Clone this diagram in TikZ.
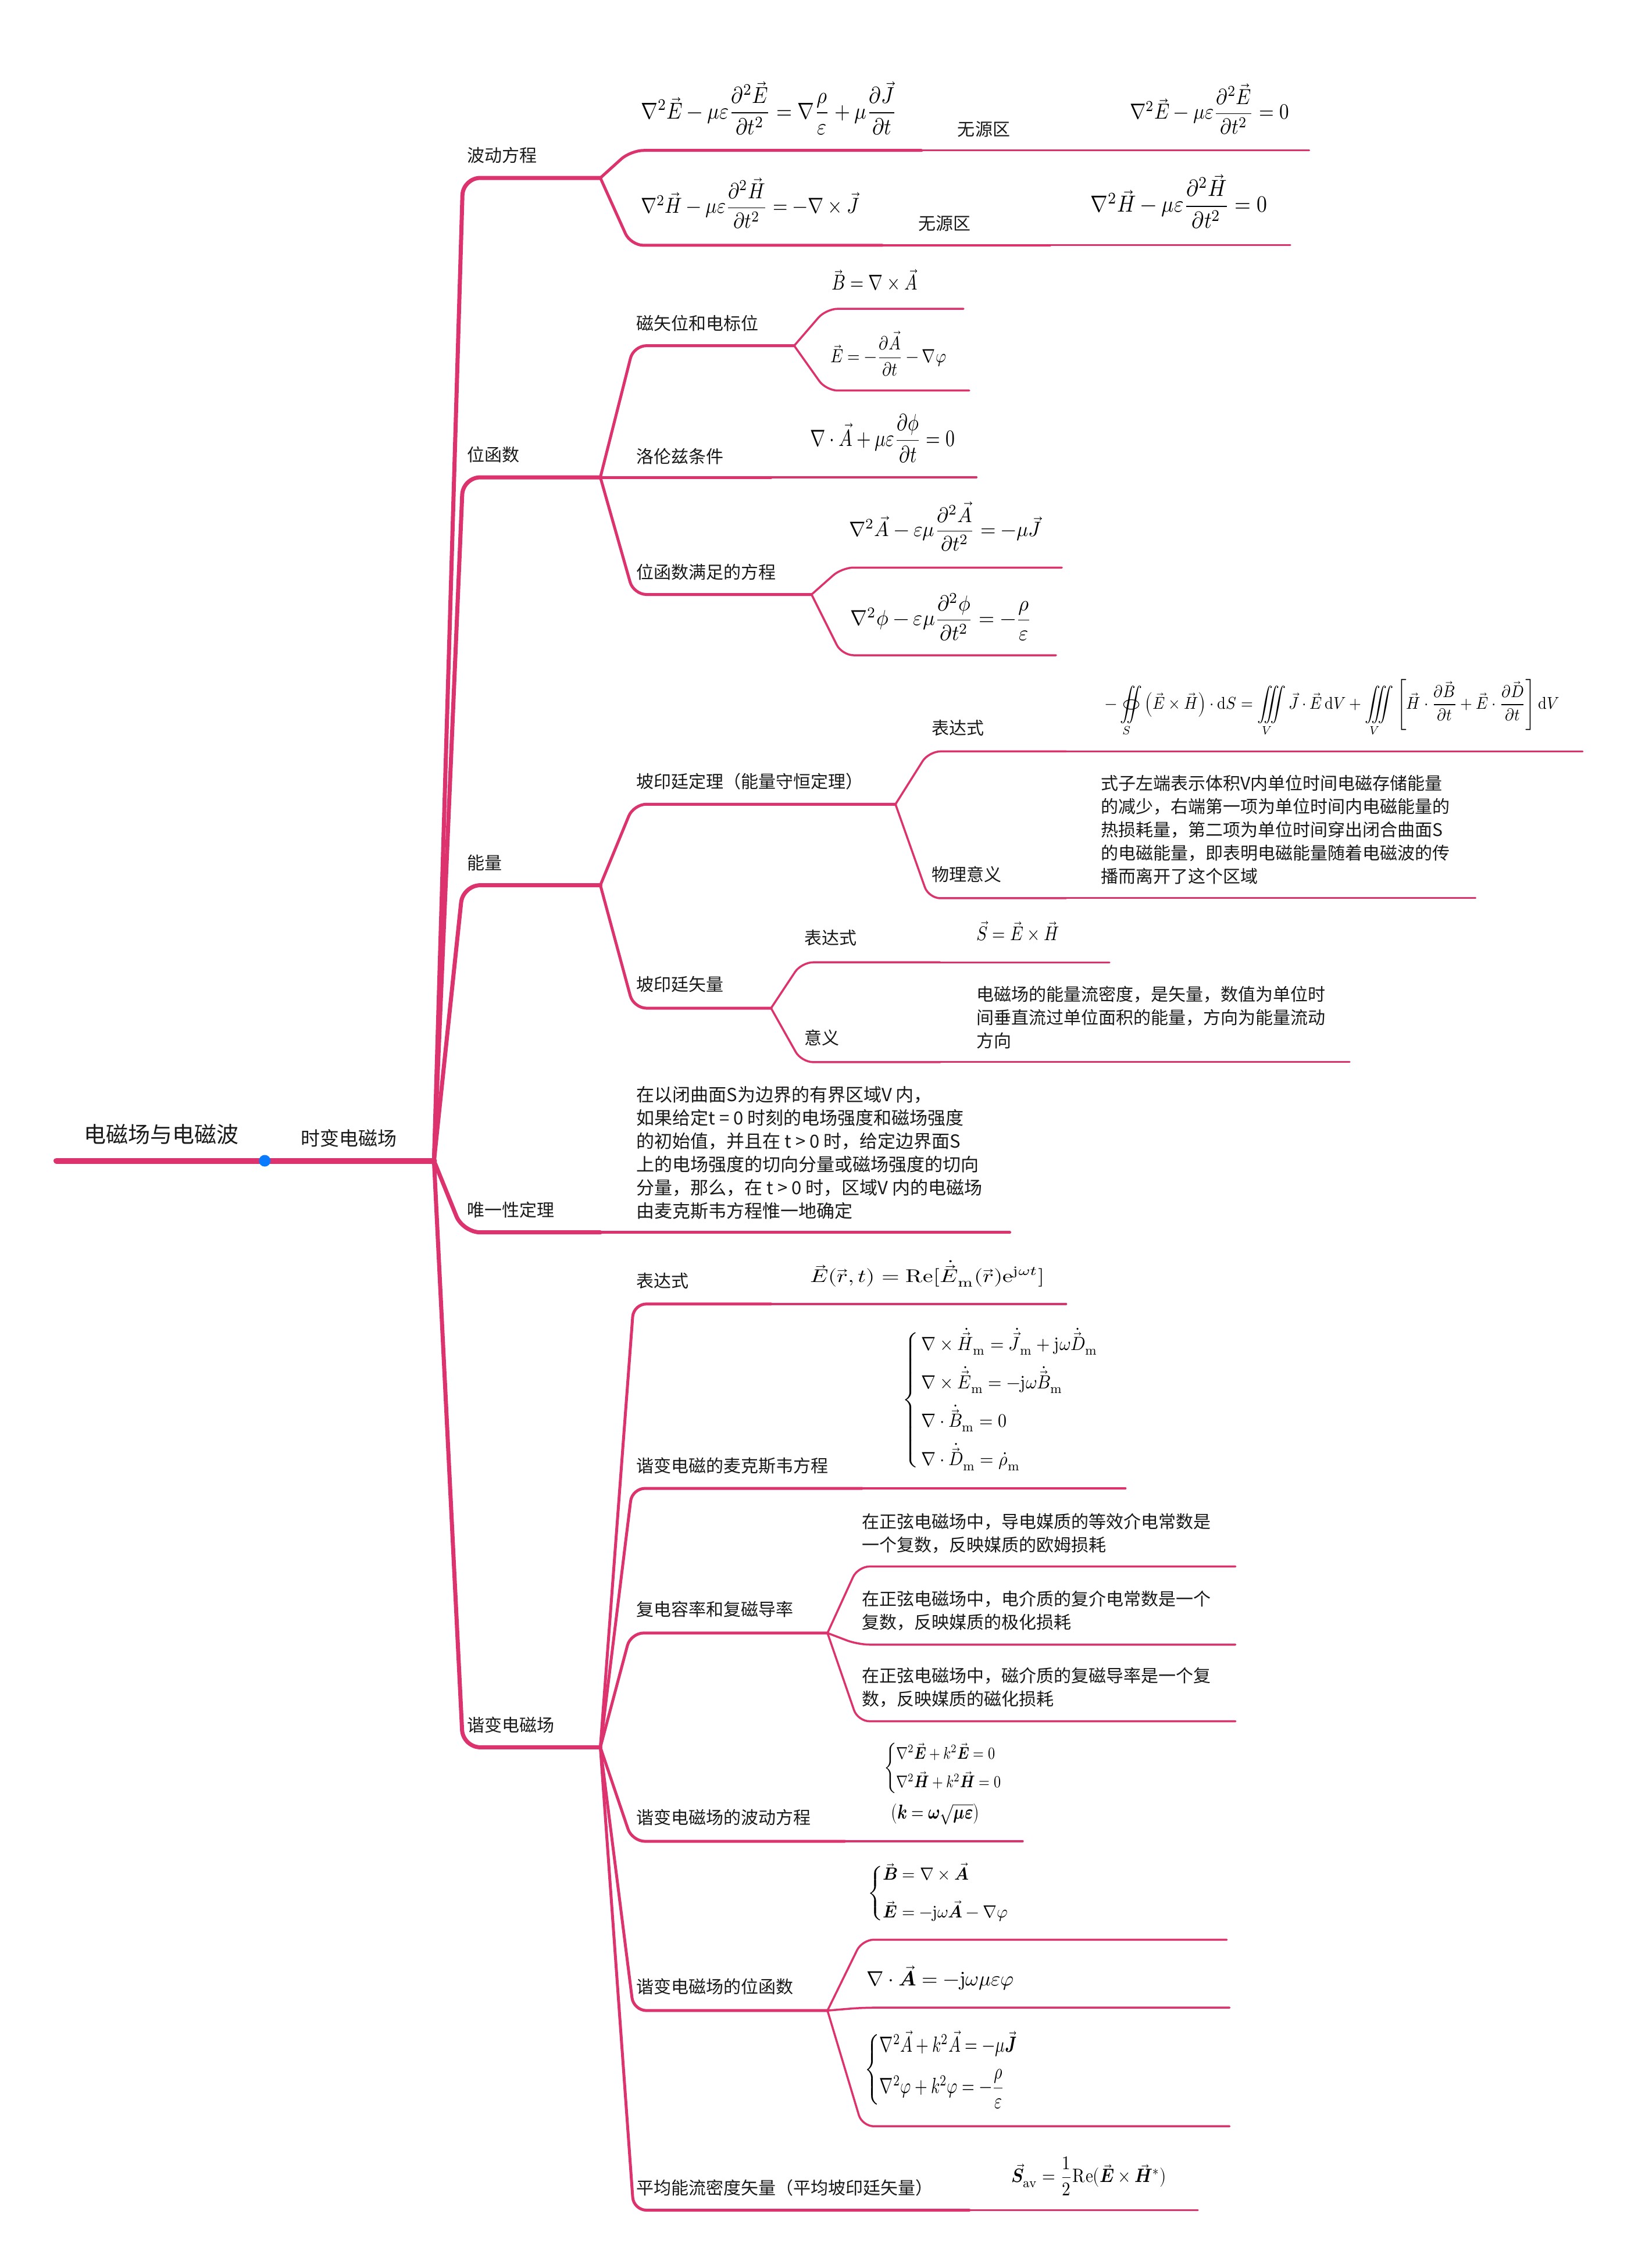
\documentclass[tikz,border=0pt]{standalone}
\usepackage{amsmath}
\usepackage{fontspec}
\usepackage{unicode-math}
\setmainfont{Noto Sans CJK SC}
\setmathfont{Latin Modern Math}
\usepackage{graphicx}
\definecolor{mm}{RGB}{220,50,110}
\definecolor{dotc}{RGB}{10,122,255}
\definecolor{txt}{RGB}{25,25,25}
\newlength\ulen
\setlength\ulen{2.4876pt}
\newcommand\fmla[6]{\node[anchor=north west, inner sep=0pt, outer sep=0pt, text=black] (#1) at (#2,#3) {\resizebox*{#4\ulen}{#5\ulen}{$\displaystyle #6$}};}
\newcommand\para[5]{\node[anchor=base west, inner sep=0pt, outer sep=0pt, text=txt] (#1) at (#2,#3) {\fontsize{#4}{40}\selectfont\vtop{\baselineskip=40pt #5}};}
\tikzset{
  ln/.style={draw=mm, line cap=round, line join=round},
  L0/.style={ln, line width=10pt},
  L3/.style={ln, line width=7pt, rounded corners=30pt},
  L4/.style={ln, line width=5pt, rounded corners=22pt},
  L5/.style={ln, line width=3.5pt, rounded corners=20pt},
  L6/.style={ln, line width=3pt},
  lbl/.style={anchor=base west, inner sep=0pt, outer sep=0pt, text=txt, font=\fontsize{30}{36}\selectfont},
}
\begin{document}
\begin{tikzpicture}[x=2.4876pt, y=-2.4876pt]
\fill[white] (0,0) rectangle (1132,1568);
\useasboundingbox (0,0) rectangle (1132,1568);

% ---------- root ----------
\coordinate (r0) at (39,802.5);
\coordinate (dot) at (183,802.5);
\coordinate (j0) at (300,802.5);
\draw[L0] (r0) -- (j0);
\node[circle, fill=dotc, minimum size=20pt, inner sep=0pt] (dotn) at (dot) {};
\node[lbl, font=\fontsize{38}{44}\selectfont] (root) at (58,790) {电磁场与电磁波};
\node[lbl, font=\fontsize{33}{40}\selectfont] (sb) at (208,792) {时变电磁场};

% ---------- level 3 ----------
\coordinate (k1) at (320,123);  \coordinate (e1) at (415,123);
\coordinate (k2) at (320,330);  \coordinate (e2) at (415,330);
\coordinate (k3) at (320,612);  \coordinate (e3) at (415,612);
\coordinate (k4) at (320,852);  \coordinate (e4) at (415,852);
\coordinate (k5) at (320,1208); \coordinate (e5) at (415,1208);
\draw[L3] (j0) -- (k1) -- (e1);
\draw[L3] (j0) -- (k2) -- (e2);
\draw[L3] (j0) -- (k3) -- (e3);
\draw[L3] (j0) -- (k4) -- (e4);
\draw[L3] (j0) -- (k5) -- (e5);
\node[lbl] (t1) at (323,112) {波动方程};
\node[lbl] (t2) at (323,319) {位函数};
\node[lbl] (t3) at (323,601) {能量};
\node[lbl] (t4) at (323,841) {唯一性定理};
\node[lbl] (t5) at (323,1197) {谐变电磁场};

% ---------- 波动方程 ----------
\coordinate (a1k) at (436,104); \coordinate (a1m) at (637,104); \coordinate (a1n) at (754,104); \coordinate (a1e) at (905,104);
\draw[L4] (e1) -- (a1k) -- (a1m);
\draw[L5] (a1m) -- (a1n);
\draw[L6] (a1n) -- (a1e);
\coordinate (a2k) at (436,169.6); \coordinate (a2m) at (610,169.6); \coordinate (a2n) at (726,169.6); \coordinate (a2e) at (892,169.6);
\draw[L4] (e1) -- (a2k) -- (a2m);
\draw[L5] (a2m) -- (a2n);
\draw[L6] (a2n) -- (a2e);
\fmla{f1}{443}{56.3}{177}{37}{\nabla^2\vec{E}-\mu\varepsilon\frac{\partial^2\vec{E}}{\partial t^2}=\nabla\frac{\rho}{\varepsilon}+\mu\frac{\partial\vec{J}}{\partial t}}
\node[lbl] (w1) at (662,94) {无源区};
\fmla{f2}{781}{58}{110}{35}{\nabla^2\vec{E}-\mu\varepsilon\frac{\partial^2\vec{E}}{\partial t^2}=0}
\fmla{f3}{443}{123}{151}{35}{\nabla^2\vec{H}-\mu\varepsilon\frac{\partial^2\vec{H}}{\partial t^2}=-\nabla\times\vec{J}}
\node[lbl] (w2) at (635,159) {无源区};
\fmla{f4}{754}{120.6}{122}{37.4}{\nabla^2\vec{H}-\mu\varepsilon\frac{\partial^2\vec{H}}{\partial t^2}=0}

% ---------- 位函数 ----------
\coordinate (b1k) at (438,239); \coordinate (b1m) at (549,239);
\draw[L4] (e2) -- (b1k) -- (b1m);
\coordinate (b11k) at (571,213.5); \coordinate (b11e) at (666,213.5);
\coordinate (b12k) at (571,270); \coordinate (b12e) at (670,270);
\draw[L5] (b1m) -- (b11k) -- (b11e);
\draw[L5] (b1m) -- (b12k) -- (b12e);
\node[lbl] (t21) at (440,228) {磁矢位和电标位};
\fmla{f5}{575}{186}{59}{15}{\vec{B}=\nabla\times\vec{A}}
\fmla{f6}{574}{229}{80}{31}{\vec{E}=-\frac{\partial\vec{A}}{\partial t}-\nabla\varphi}
\coordinate (b2m) at (533,330); \coordinate (b2e) at (675,330);
\draw[L4] (e2) -- (b2m);
\draw[L5] (b2m) -- (b2e);
\node[lbl] (t22) at (440,320) {洛伦兹条件};
\fmla{f7}{560}{286}{100}{34}{\nabla\cdot\vec{A}+\mu\varepsilon\frac{\partial\phi}{\partial t}=0}
\coordinate (b3k) at (438,411); \coordinate (b3m) at (561,411);
\draw[L4] (e2) -- (b3k) -- (b3m);
\coordinate (b31k) at (582,392.4); \coordinate (b31e) at (734,392.4);
\coordinate (b32k) at (582,453); \coordinate (b32e) at (730,453);
\draw[L5] (b3m) -- (b31k) -- (b31e);
\draw[L5] (b3m) -- (b32k) -- (b32e);
\node[lbl] (t23) at (440,400) {位函数满足的方程};
\fmla{f8}{587}{347}{133}{34}{\nabla^2\vec{A}-\varepsilon\mu\frac{\partial^2\vec{A}}{\partial t^2}=-\mu\vec{J}}
\fmla{f9}{588}{410}{125}{33}{\nabla^2\phi-\varepsilon\mu\frac{\partial^2\phi}{\partial t^2}=-\frac{\rho}{\varepsilon}}

% ---------- 能量 ----------
\coordinate (c1k) at (438,556); \coordinate (c1m) at (619,556);
\draw[L4] (e3) -- (c1k) -- (c1m);
\coordinate (c11k) at (642,519.5); \coordinate (c11m) at (737,519.5); \coordinate (c11e) at (1094,519.5);
\coordinate (c12k) at (642,621); \coordinate (c12m) at (737,621); \coordinate (c12e) at (1020,621);
\draw[L5] (c1m) -- (c11k) -- (c11m);
\draw[L6] (c11m) -- (c11e);
\draw[L5] (c1m) -- (c12k) -- (c12m);
\draw[L6] (c12m) -- (c12e);
\node[lbl] (t31) at (440,545) {坡印廷定理（能量守恒定理）};
\node[lbl] (t311) at (644,508) {表达式};
\node[lbl] (t312) at (644,609) {物理意义};
\fmla{f10}{764}{469.5}{314}{40}{-\oiint\limits_S\left(\vec{E}\times\vec{H}\right)\cdot\symup{d}S=\iiint\limits_V\vec{J}\cdot\vec{E}\,\symup{d}V+\iiint\limits_V\left[\vec{H}\cdot\frac{\partial\vec{B}}{\partial t}+\vec{E}\cdot\frac{\partial\vec{D}}{\partial t}\right]\symup{d}V}
\para{p1}{761}{546}{30}{\hbox{式子左端表示体积V内单位时间电磁存储能量}\hbox{的减少，右端第一项为单位时间内电磁能量的}\hbox{热损耗量，第二项为单位时间穿出闭合曲面S}\hbox{的电磁能量，即表明电磁能量随着电磁波的传}\hbox{播而离开了这个区域}}
\coordinate (c2k) at (438,697); \coordinate (c2m) at (533,697);
\draw[L4] (e3) -- (c2k) -- (c2m);
\coordinate (c21k) at (554,665.3); \coordinate (c21m) at (650,665.3); \coordinate (c21e) at (767,665.3);
\coordinate (c22k) at (554,734.3); \coordinate (c22m) at (650,734.3); \coordinate (c22e) at (933,734.3);
\draw[L5] (c2m) -- (c21k) -- (c21m);
\draw[L6] (c21m) -- (c21e);
\draw[L5] (c2m) -- (c22k) -- (c22m);
\draw[L6] (c22m) -- (c22e);
\node[lbl] (t32) at (440,685) {坡印廷矢量};
\node[lbl] (t321) at (556,653) {表达式};
\node[lbl] (t322) at (556,722) {意义};
\fmla{f11}{675}{637}{57}{13.5}{\vec{S}=\vec{E}\times\vec{H}}
\para{p2}{675}{692}{30}{\hbox{电磁场的能量流密度，是矢量，数值为单位时}\hbox{间垂直流过单位面积的能量，方向为能量流动}\hbox{方向}}

% ---------- 唯一性定理 ----------
\coordinate (d1e) at (698,852);
\draw[L4] (e4) -- (d1e);
\para{p3}{440}{761.6}{31}{\hbox{在以闭曲面S为边界的有界区域V 内，}\hbox{如果给定t = 0 时刻的电场强度和磁场强度}\hbox{的初始值，并且在 t > 0 时，给定边界面S}\hbox{上的电场强度的切向分量或磁场强度的切向}\hbox{分量，那么，在 t > 0 时，区域V 内的电磁场}\hbox{由麦克斯韦方程惟一地确定}}

% ---------- 谐变电磁场 ----------
\coordinate (h1k) at (438,901.5); \coordinate (h1m) at (533,901.5); \coordinate (h1e) at (737,901.5);
\draw[L4] (e5) -- (h1k) -- (h1m);
\draw[L5] (h1m) -- (h1e);
\node[lbl] (t51) at (440,890) {表达式};
\fmla{f12}{560}{871.6}{162}{18}{\vec{E}(\vec{r},t)=\symup{Re}[\dot{\vec{E}}_{\symup{m}}(\vec{r})\symup{e}^{\symup{j}\omega t}]}

\coordinate (h2k) at (437,1029); \coordinate (h2m) at (596,1029); \coordinate (h2e) at (778,1029);
\draw[L4] (e5) -- (h2k) -- (h2m);
\draw[L5] (h2m) -- (h2e);
\node[lbl] (t52) at (440,1018) {谐变电磁的麦克斯韦方程};
\fmla{f13}{624}{918}{136}{100}{\left\{\begin{array}{@{\,}l@{}}\nabla\times\dot{\vec{H}}_{\symup{m}}=\dot{\vec{J}}_{\symup{m}}+\symup{j}\omega\dot{\vec{D}}_{\symup{m}}\\[5pt]\nabla\times\dot{\vec{E}}_{\symup{m}}=-\symup{j}\omega\dot{\vec{B}}_{\symup{m}}\\[5pt]\nabla\cdot\dot{\vec{B}}_{\symup{m}}=0\\[5pt]\nabla\cdot\dot{\vec{D}}_{\symup{m}}=\dot{\rho}_{\symup{m}}\end{array}\right.}

\coordinate (h3k) at (436,1129); \coordinate (h3m) at (572,1129);
\draw[L4] (e5) -- (h3k) -- (h3m);
\coordinate (h31k) at (593,1083); \coordinate (h31e) at (854,1083);
\coordinate (h32k) at (593,1137); \coordinate (h32e) at (854,1137);
\coordinate (h33k) at (593,1190); \coordinate (h33e) at (854,1190);
\draw[L5] (h3m) -- (h31k) -- (h31e);
\draw[L5] (h3m) -- (h32k) -- (h32e);
\draw[L5] (h3m) -- (h33k) -- (h33e);
\node[lbl] (t53) at (440,1117) {复电容率和复磁导率};
\para{p4}{596}{1056.6}{30}{\hbox{在正弦电磁场中，导电媒质的等效介电常数是}\hbox{一个复数，反映媒质的欧姆损耗}}
\para{p5}{596}{1110}{30}{\hbox{在正弦电磁场中，电介质的复介电常数是一个}\hbox{复数，反映媒质的极化损耗}}
\para{p6}{596}{1163.2}{30}{\hbox{在正弦电磁场中，磁介质的复磁导率是一个复}\hbox{数，反映媒质的磁化损耗}}

\coordinate (h4k) at (437,1273); \coordinate (h4m) at (584,1273); \coordinate (h4e) at (707,1273);
\draw[L4] (e5) -- (h4k) -- (h4m);
\draw[L5] (h4m) -- (h4e);
\node[lbl] (t54) at (440,1261) {谐变电磁场的波动方程};
\fmla{f14}{611}{1205}{82}{35}{\left\{\begin{array}{@{}l@{}}\nabla^2\vec{\symbfit{E}}+k^2\vec{\symbfit{E}}=0\\[4pt]\nabla^2\vec{\symbfit{H}}+k^2\vec{\symbfit{H}}=0\end{array}\right.}
\fmla{f15}{616}{1247}{61}{14.5}{(\symbfit{k}=\symbfit{\omega}\sqrt{\symbfit{\mu}\symbfit{\varepsilon}})}

\coordinate (h5k) at (438,1390); \coordinate (h5m) at (572,1390);
\draw[L4] (e5) -- (h5k) -- (h5m);
\coordinate (h51k) at (596,1341); \coordinate (h51e) at (848,1341);
\coordinate (h52k) at (596,1388); \coordinate (h52e) at (850,1388);
\coordinate (h53k) at (596,1470); \coordinate (h53e) at (850,1470);
\draw[L5] (h5m) -- (h51k) -- (h51e);
\draw[L5] (h5m) -- (h52k) -- (h52e);
\draw[L5] (h5m) -- (h53k) -- (h53e);
\node[lbl] (t55) at (440,1378) {谐变电磁场的位函数};
\fmla{f16}{600}{1288}{98}{42}{\left\{\begin{array}{@{}l@{}}\vec{\symbfit{B}}=\nabla\times\vec{\symbfit{A}}\\[8pt]\vec{\symbfit{E}}=-\symup{j}\omega\vec{\symbfit{A}}-\nabla\varphi\end{array}\right.}
\fmla{f17}{599}{1359}{102}{17}{\nabla\cdot\vec{\symbfit{A}}=-\symup{j}\omega\mu\varepsilon\varphi}
\fmla{f18}{598}{1404}{106}{54}{\left\{\begin{array}{@{}l@{}}\nabla^2\vec{A}+k^2\vec{A}=-\mu\vec{\symbfit{J}}\\[4pt]\nabla^2\varphi+k^2\varphi=-\dfrac{\rho}{\varepsilon}\end{array}\right.}

\coordinate (h6k) at (438,1528); \coordinate (h6m) at (670,1528); \coordinate (h6e) at (828,1528);
\draw[L4] (e5) -- (h6k) -- (h6m);
\draw[L5] (h6m) -- (h6e);
\node[lbl] (t56) at (440,1517) {平均能流密度矢量（平均坡印廷矢量）};
\fmla{f19}{699}{1491}{107}{27}{\vec{\symbfit{S}}_{\symup{av}}=\frac{1}{2}\symup{Re}(\vec{\symbfit{E}}\times\vec{\symbfit{H}}^{*})}
\end{tikzpicture}
\end{document}
